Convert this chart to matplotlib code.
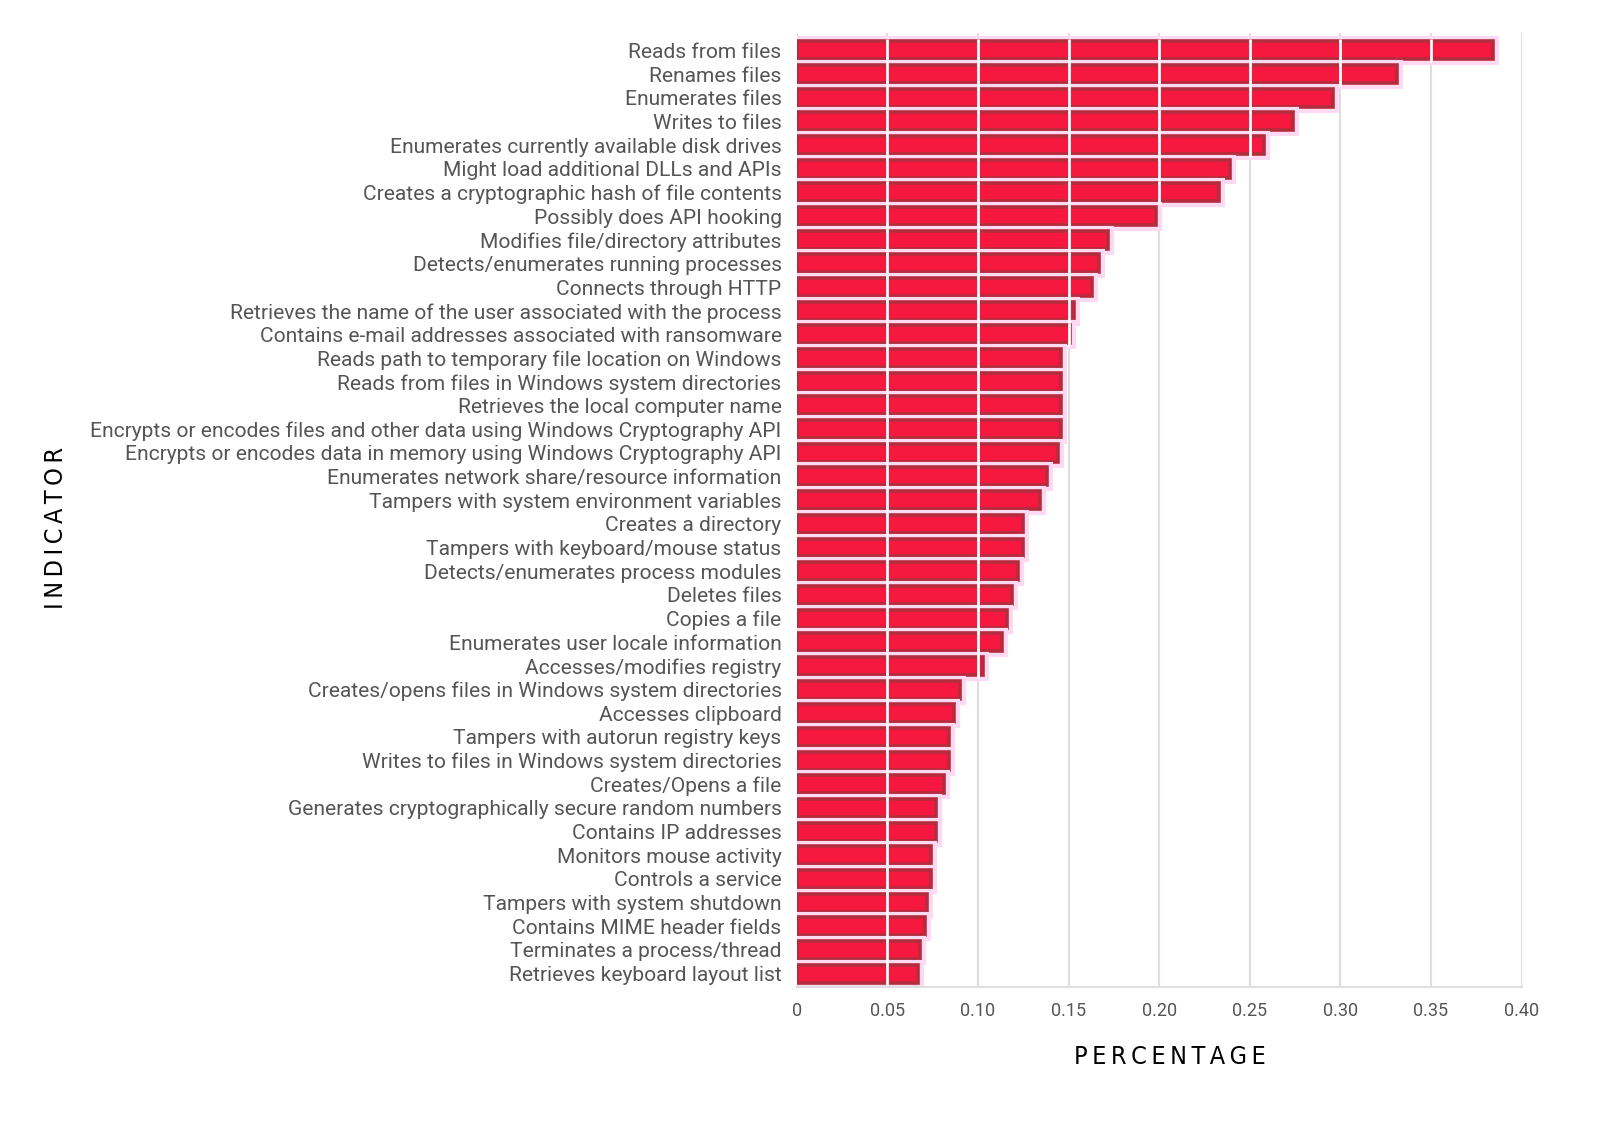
import numpy as np
import matplotlib.pyplot as plt
import matplotlib.patheffects as pe

# indicator names, top to bottom
indicators = [
    "Reads from files",
    "Renames files",
    "Enumerates files",
    "Writes to files",
    "Enumerates currently available disk drives",
    "Might load additional DLLs and APIs",
    "Creates a cryptographic hash of file contents",
    "Possibly does API hooking",
    "Modifies file/directory attributes",
    "Detects/enumerates running processes",
    "Connects through HTTP",
    "Retrieves the name of the user associated with the process",
    "Contains e-mail addresses associated with ransomware",
    "Reads path to temporary file location on Windows",
    "Reads from files in Windows system directories",
    "Retrieves the local computer name",
    "Encrypts or encodes files and other data using Windows Cryptography API",
    "Encrypts or encodes data in memory using Windows Cryptography API",
    "Enumerates network share/resource information",
    "Tampers with system environment variables",
    "Creates a directory",
    "Tampers with keyboard/mouse status",
    "Detects/enumerates process modules",
    "Deletes files",
    "Copies a file",
    "Enumerates user locale information",
    "Accesses/modifies registry",
    "Creates/opens files in Windows system directories",
    "Accesses clipboard",
    "Tampers with autorun registry keys",
    "Writes to files in Windows system directories",
    "Creates/Opens a file",
    "Generates cryptographically secure random numbers",
    "Contains IP addresses",
    "Monitors mouse activity",
    "Controls a service",
    "Tampers with system shutdown",
    "Contains MIME header fields",
    "Terminates a process/thread",
    "Retrieves keyboard layout list",
]

percentage = [
    0.384, 0.331, 0.296, 0.274, 0.258, 0.239, 0.233, 0.198, 0.172, 0.167,
    0.163, 0.153, 0.151, 0.146, 0.146, 0.146, 0.146, 0.144, 0.138, 0.134,
    0.125, 0.125, 0.122, 0.119, 0.116, 0.113, 0.103, 0.090, 0.087, 0.084,
    0.084, 0.081, 0.077, 0.077, 0.074, 0.074, 0.072, 0.071, 0.068, 0.067,
]

xticks = [0, 0.05, 0.10, 0.15, 0.20, 0.25, 0.30, 0.35, 0.40]
xticklabels = ["0", "0.05", "0.10", "0.15", "0.20", "0.25", "0.30", "0.35", "0.40"]

plt.rcParams['font.family'] = ['Roboto', 'DejaVu Sans']

fig = plt.figure(figsize=(16, 11.25), dpi=100)
ax = fig.add_axes([0.498, 0.123, 0.453, 0.848])

y = np.arange(len(indicators))
vals = np.array(percentage)

# light grid underneath
for t in xticks:
    ax.axvline(t, color='#dedede', lw=1.5, zorder=0)

bars = ax.barh(y, vals, height=0.76, color='#f7183f', edgecolor='#b32d3e',
               linewidth=2.6, zorder=2)
for b in bars:
    b.set_path_effects([pe.withStroke(linewidth=8, foreground='#fdd9f2')])

# white grid lines running through the bars
segx, segy0, segy1 = [], [], []
for yi, v in zip(y, vals):
    for t in xticks[1:]:
        if v > t:
            segx.append(t)
            segy0.append(yi - 0.5)
            segy1.append(yi + 0.5)
ax.vlines(segx, segy0, segy1, color='white', lw=2, zorder=3)

ax.set_xlim(0, 0.40)
ax.set_ylim(len(indicators) - 0.45, -0.75)
ax.set_yticks(y)
ax.set_yticklabels(indicators, fontsize=15.1, color='#555555')
ax.set_xticks(xticks)
ax.set_xticklabels(xticklabels, fontsize=13, color='#555555')
ax.tick_params(axis='y', length=0, pad=11)
ax.tick_params(axis='x', length=0, pad=11)

for s in ['top', 'right', 'left']:
    ax.spines[s].set_visible(False)
ax.spines['bottom'].set_color('#dedede')
ax.spines['bottom'].set_linewidth(1.5)

thin = '\u2009'
fig.text(0.731, 0.060, thin.join("PERCENTAGE"), ha='center', va='center',
         fontsize=18, family='DejaVu Sans', fontstretch='condensed',
         color='black')
fig.text(0.035, 0.531, thin.join("INDICATOR"), ha='center', va='center',
         rotation=90, fontsize=18, family='DejaVu Sans',
         fontstretch='condensed', color='black')

fig.savefig('out.png', dpi=100, facecolor='white')
